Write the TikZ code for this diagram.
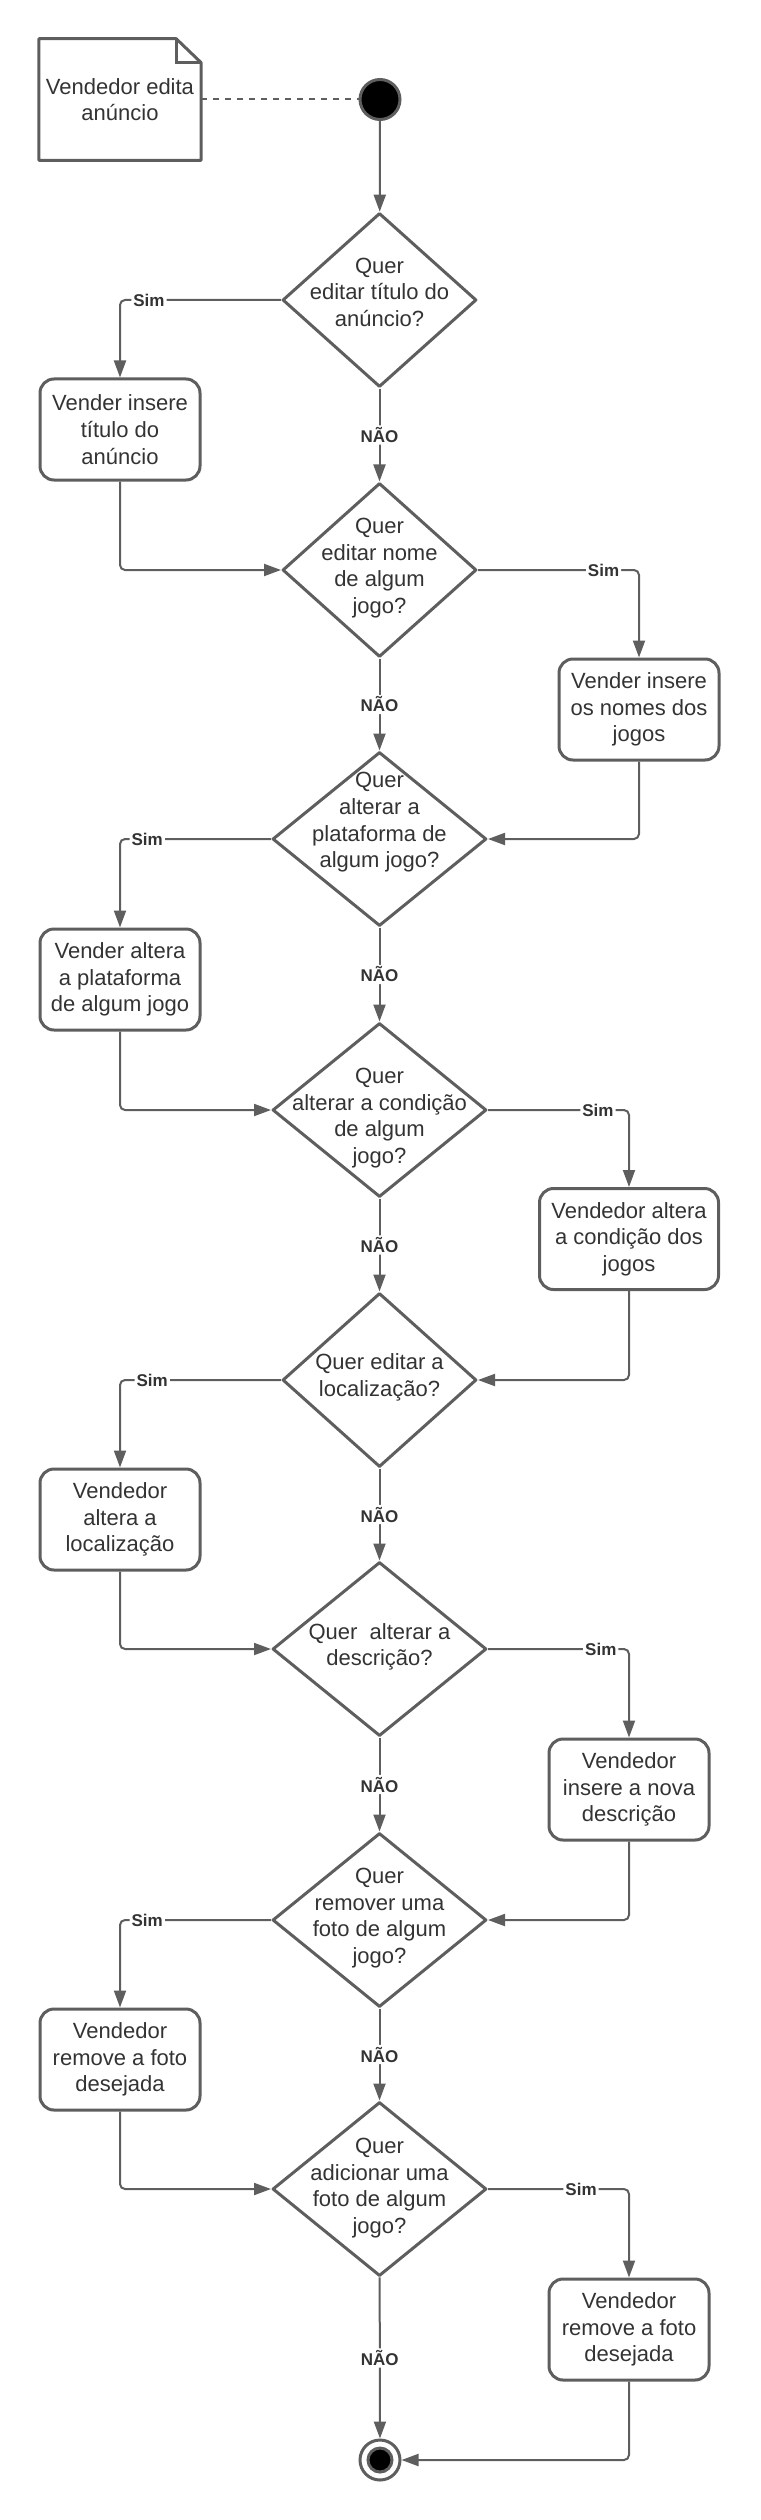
\documentclass[tikz,border=0pt]{standalone}
\usepackage{fontspec}
\setmainfont{Liberation Sans}
\usetikzlibrary{shapes.geometric,arrows.meta}
\definecolor{linha}{HTML}{5E5E5E}
\definecolor{texto}{HTML}{333333}
\newcommand{\pergunta}[2][0pt]{\smash{\makebox[0pt]{\raisebox{#1}{\begin{tabular}{@{}c@{}}#2\end{tabular}}}}}
\begin{document}
\begin{tikzpicture}[x=0.5pt,y=-0.5pt,
      every node/.style={text=texto,font=\fontsize{11pt}{13.35pt}\selectfont},
      dec/.style={diamond,draw=linha,line width=1.5pt,line join=round,inner sep=0pt,minimum width=97pt,minimum height=87pt},
      decl/.style={dec,minimum width=107pt},
      caixa/.style={rectangle,rounded corners=7pt,draw=linha,line width=1.5pt,minimum width=80pt,minimum height=50.5pt,align=center,inner sep=2pt},
      seta/.style={draw=linha,line width=1pt,rounded corners=2.5pt,-{Triangle[length=8.5pt,width=6pt]}},
      rot/.style={fill=white,inner sep=1pt,font=\fontsize{8.5pt}{10pt}\selectfont\bfseries},
      inicio/.style={circle,fill=black,draw=linha,line width=1.5pt,minimum size=20pt,inner sep=0pt},
      estfinal/.style={circle,draw=linha,line width=1.5pt,fill=white,minimum size=20pt,inner sep=0pt,
        path picture={\draw[draw=linha,fill=black,line width=1.5pt] (path picture bounding box.center) circle (6pt);}}]
      \useasboundingbox (0,0) rectangle (760,2520);
      \node[minimum width=80.3pt,minimum height=60.5pt,align=center] (nota) at (120,99.5) {Vendedor edita\\anúncio};
      \draw[draw=linha,line width=1.5pt,line join=round] (nota.north west) -- ([xshift=-12.5pt]nota.north east)
        -- ([yshift=-12pt]nota.north east) -- (nota.south east) -- (nota.south west) -- cycle;
      \draw[draw=linha,line width=1.5pt] ([xshift=-12.5pt]nota.north east) |- ([yshift=-12pt]nota.north east);
      \node[inicio] (ini) at (380,99.5) {};
      \node[dec] (q1) at (379.5,300) {\pergunta{Quer\\editar título do\\anúncio?}};
      \node[dec] (q2) at (379.5,570) {\pergunta[-1.75pt]{Quer\\editar nome\\de algum\\jogo?}};
      \node[decl] (q3) at (379.5,839) {\pergunta[5.5pt]{Quer\\alterar a\\plataforma de\\algum jogo?}};
      \node[decl] (q4) at (379.5,1110) {\pergunta[-6.75pt]{Quer\\alterar a condição\\de algum\\jogo?}};
      \node[dec] (q5) at (379.5,1380) {\pergunta[-1.5pt]{Quer editar a\\localização?}};
      \node[decl] (q6) at (379.5,1649) {\pergunta[-1.75pt]{Quer\ \ alterar a\\descrição?}};
      \node[decl] (q7) at (379.5,1920) {\pergunta[-1.75pt]{Quer\\remover uma\\foto de algum\\jogo?}};
      \node[decl] (q8) at (379.5,2189) {\pergunta[-2.25pt]{Quer\\adicionar uma\\foto de algum\\jogo?}};
      \node[estfinal] (final) at (380,2460) {};
      \node[caixa] (b1) at (120,429.5) {Vender insere\\título do\\anúncio};
      \node[caixa] (b2) at (639,709.5) {Vender insere\\os nomes dos\\jogos};
      \node[caixa] (b3) at (120,979.5) {Vender altera\\a plataforma\\de algum jogo};
      \node[caixa,minimum width=89.5pt] (b4) at (629,1239) {Vendedor altera\\a condição dos\\jogos};
      \node[caixa] (b5) at (120,1519.5) {Vendedor\\altera a\\localização};
      \node[caixa] (b6) at (629,1789.5) {Vendedor\\insere a nova\\descrição};
      \node[caixa] (b7) at (120,2059.5) {Vendedor\\remove a foto\\desejada};
      \node[caixa] (b8) at (629,2329.5) {Vendedor\\remove a foto\\desejada};
      \draw[draw=linha,line width=1pt,dash pattern=on 3pt off 3pt] (nota) -- (ini);
      \draw[seta] (ini) -- (q1);
      \draw[seta] (q1) -| node[rot,pos=0.41] {Sim} (b1);
      \draw[seta] (b1) |- (q2);
      \draw[seta] (q1) -- node[rot] {NÃO} (q2);
      \draw[seta] (q2) -| node[rot,pos=0.39] {Sim} (b2);
      \draw[seta] (b2) |- (q3);
      \draw[seta] (q2) -- node[rot] {NÃO} (q3);
      \draw[seta] (q3) -| node[rot,pos=0.41] {Sim} (b3);
      \draw[seta] (b3) |- (q4);
      \draw[seta] (q3) -- node[rot] {NÃO} (q4);
      \draw[seta] (q4) -| node[rot,pos=0.39] {Sim} (b4);
      \draw[seta] (b4) |- (q5);
      \draw[seta] (q4) -- node[rot] {NÃO} (q5);
      \draw[seta] (q5) -| node[rot,pos=0.4] {Sim} (b5);
      \draw[seta] (b5) |- (q6);
      \draw[seta] (q5) -- node[rot] {NÃO} (q6);
      \draw[seta] (q6) -| node[rot,pos=0.4] {Sim} (b6);
      \draw[seta] (b6) |- (q7);
      \draw[seta] (q6) -- node[rot] {NÃO} (q7);
      \draw[seta] (q7) -| node[rot,pos=0.41] {Sim} (b7);
      \draw[seta] (b7) |- (q8);
      \draw[seta] (q7) -- node[rot] {NÃO} (q8);
      \draw[seta] (q8) -| node[rot,pos=0.33] {Sim} (b8);
      \draw[seta] (b8) |- (final);
      \draw[seta] (q8) -- node[rot] {NÃO} (final);
    \end{tikzpicture}
\end{document}
